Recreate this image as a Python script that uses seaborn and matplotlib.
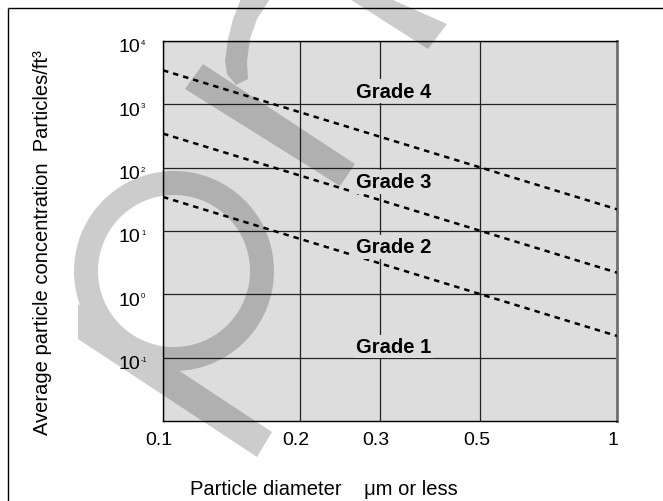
import numpy as np
import pandas as pd
import matplotlib
matplotlib.use('Agg')
import matplotlib.pyplot as plt
import seaborn as sns
from matplotlib.path import Path
from matplotlib.patches import PathPatch
from matplotlib.ticker import NullLocator, FixedLocator, FixedFormatter
from matplotlib.transforms import ScaledTranslation

# ---------------- data ----------------
diameter = [0.1, 1.0]
grade4 = [3450, 22]
grade3 = [345, 2.2]
grade2 = [34.5, 0.22]
grade_names = ['Grade 4', 'Grade 3', 'Grade 2', 'Grade 1']
grade_label_x = 0.322
grade_label_y = [1600, 60, 5.6, 0.15]
x_ticks = [0.1, 0.2, 0.3, 0.5, 1]
x_tick_labels = ['0.1', '0.2', '0.3', '0.5', '1']
y_exponents = [-1, 0, 1, 2, 3, 4]
x_label = 'Particle diameter    \u03bcm or less'
y_label = 'Average particle concentration  Particles/ft\u00b3'

sns.set_theme(style='white')
plt.rcParams['font.family'] = ['Liberation Sans', 'DejaVu Sans']
plt.rcParams['text.color'] = 'black'
plt.rcParams['axes.labelcolor'] = 'black'
plt.rcParams['xtick.color'] = 'black'
plt.rcParams['ytick.color'] = 'black'

W, H = 663, 502
fig = plt.figure(figsize=(W / 100, H / 100), dpi=100)
fig.patch.set_facecolor('white')
ax = fig.add_axes([163 / W, 1 - 422 / H, (617 - 163) / W, (422 - 42) / H])
ax.set_facecolor('#dddddd')
ax.set_xscale('log')
ax.set_yscale('log')

df = pd.DataFrame({
    'd': diameter * 3,
    'c': grade4 + grade3 + grade2,
    'grade': ['Grade 4'] * 2 + ['Grade 3'] * 2 + ['Grade 2'] * 2,
})
sns.lineplot(data=df, x='d', y='c', units='grade', estimator=None,
             color='black', lw=1.8, ax=ax, legend=False, zorder=4)
for ln in ax.lines:
    ln.set_linestyle((0, (2.2, 2.0)))

ax.set_xlim(0.1, 1)
ax.set_ylim(0.01, 1e4)
ax.xaxis.set_major_locator(FixedLocator(x_ticks))
ax.xaxis.set_major_formatter(FixedFormatter(x_tick_labels))
ax.xaxis.set_minor_locator(NullLocator())
yt = [10.0 ** e for e in y_exponents]
ax.yaxis.set_major_locator(FixedLocator(yt))
ax.yaxis.set_major_formatter(FixedFormatter(['10'] * len(yt)))
ax.yaxis.set_minor_locator(NullLocator())
ax.grid(True, color='#222222', lw=0.9)
ax.set_axisbelow(True)
ax.tick_params(axis='both', length=0, labelsize=14, colors='black', labelcolor='black')
ax.tick_params(axis='x', pad=7)
ax.tick_params(axis='y', pad=16.5)
ax.set_xlabel('')
ax.set_ylabel('')
for lab in ax.get_xticklabels():
    lab.set_transform(lab.get_transform() + ScaledTranslation(-4 / 100, 0, fig.dpi_scale_trans))
for lab in ax.get_yticklabels():
    lab.set_transform(lab.get_transform() + ScaledTranslation(0, -4 / 100, fig.dpi_scale_trans))

for e in y_exponents:
    ax.annotate(f'{e}', xy=(0, 10.0 ** e), xycoords=('axes fraction', 'data'),
                xytext=(-22, -1.5), textcoords='offset pixels', fontsize=5.5,
                ha='left', va='center', color='black', annotation_clip=False)

for s in ['left', 'top', 'bottom']:
    ax.spines[s].set_color('black')
    ax.spines[s].set_linewidth(1.0)
ax.spines['right'].set_color('#707070')
ax.spines['right'].set_linewidth(2.0)

for name, yv in zip(grade_names, grade_label_y):
    ax.text(grade_label_x, yv, name, fontsize=14.5, fontweight='bold', color='black',
            ha='center', va='center', zorder=5,
            bbox=dict(boxstyle='square,pad=0.12', facecolor='#dddddd', edgecolor='none'))

fig.text(324 / W, 1 - 495 / H, x_label, fontsize=14.5, color='black', ha='center', va='baseline')
fig.text(43 / W, 1 - 243 / H, y_label, fontsize=14.5, color='black', ha='center', va='center', rotation=90)

# ---------------- overlay: border + watermark ----------------
wax = fig.add_axes([0, 0, 1, 1], zorder=10)
wax.set_xlim(0, W)
wax.set_ylim(H, 0)
wax.axis('off')
wax.patch.set_alpha(0)
wax.plot([8, W + 5], [9, 9], color='black', lw=1.0, solid_capstyle='butt')
wax.plot([8, 8], [9, H + 5], color='black', lw=1.0, solid_capstyle='butt')


def ring(cx, cy, r_in, r_out, t0, t1, n=160):
    t = np.radians(np.linspace(t0, t1, n))
    outer = np.column_stack([cx + r_out * np.cos(t), cy - r_out * np.sin(t)])
    inner = np.column_stack([cx + r_in * np.cos(t[::-1]), cy - r_in * np.sin(t[::-1])])
    return np.vstack([outer, inner])


shapes = [
    ring(174, 272, 76, 100, -150, 210),
    np.array([(78, 305), (78, 340), (257, 458), (272, 433)], float),
    np.array([(185, 90), (203, 65), (355, 165), (340, 187)], float),
    np.array([(345, -3), (428, 50), (447, 25), (384, -3)], float),
    np.array([(242, -3), (233, 20), (228, 40), (225, 62), (227, 75), (236, 86),
              (248, 80), (247, 62), (250, 40), (257, 20), (272, -3)], float),
]

verts, codes = [], []
for poly in shapes:
    x, y = poly[:, 0], poly[:, 1]
    area = 0.5 * np.sum(x * np.roll(y, -1) - np.roll(x, -1) * y)
    if area < 0:
        poly = poly[::-1]
    verts.extend(poly.tolist())
    verts.append(poly[0].tolist())
    codes.extend([Path.MOVETO] + [Path.LINETO] * (len(poly) - 1) + [Path.CLOSEPOLY])
wm = PathPatch(Path(verts, codes), facecolor='black', edgecolor='none', alpha=0.2)
wax.add_patch(wm)

fig.savefig('out.png', dpi=100, facecolor='white')
